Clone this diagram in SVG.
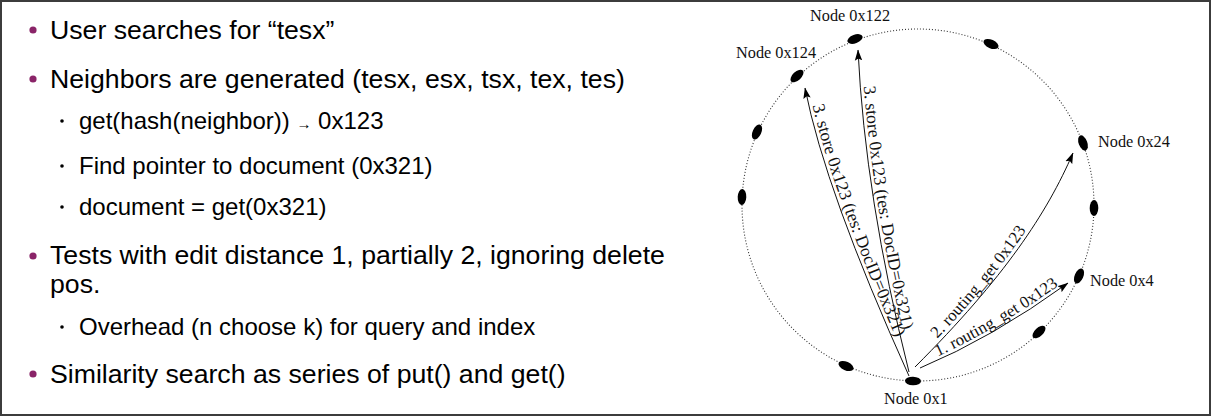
<svg xmlns="http://www.w3.org/2000/svg" xmlns:xlink="http://www.w3.org/1999/xlink" width="1211" height="416" viewBox="0 0 1211 416">
<style>
.l1{font-family:"Liberation Sans",Arial,sans-serif;font-size:26.67px;fill:#000}
.l2{font-family:"Liberation Sans",Arial,sans-serif;font-size:24px;fill:#000}
.b1{fill:#8a2468}
.b2{fill:#000}
.ring{fill:none;stroke:#333;stroke-width:1.1;stroke-dasharray:1 2}
.nd{fill:#000}
.nl{font-family:"Liberation Serif","Times New Roman",serif;font-size:16.3px;fill:#111}
.al{font-family:"Liberation Serif","Times New Roman",serif;font-size:16.8px;fill:#111}
.as{font-family:"Liberation Serif","Times New Roman",serif;font-size:17.6px;fill:#111}
.cn{fill:none;stroke:#111;stroke-width:1;marker-end:url(#ah)}
</style>
<defs>
<marker id="ah" markerUnits="userSpaceOnUse" markerWidth="11" markerHeight="8" viewBox="0 0 11 8" refX="10.5" refY="4" orient="auto">
<path d="M0,0.3 L11,4 L0,7.7 L2,4 z" fill="#000"/>
</marker>
<path id="tA" d="M808.5,87 Q828.5,189 912.5,375"/>
<path id="tB" d="M861.5,49.5 Q868.5,196.5 912.5,371.5"/>
<path id="tC" d="M912,364.6 C1002,274.6 1044,210.6 1070,150.6"/>
<path id="tD" d="M918.6,364.8 Q990.6,334.8 1066.6,279.8"/>
</defs>
<rect x="0" y="0" width="1211" height="416" fill="#fff"/>
<rect x="1" y="1" width="1209" height="414" fill="none" stroke="#3c3c3c" stroke-width="2"/>

<g id="text-left">
<circle class="b1" cx="33" cy="30" r="3.6"/>
<text class="l1" x="50" y="39">User searches for “tesx”</text>
<circle class="b1" cx="33" cy="79" r="3.6"/>
<text class="l1" x="50" y="88">Neighbors are generated (tesx, esx, tsx, tex, tes)</text>
<circle class="b2" cx="62" cy="121" r="1.8"/>
<text class="l2" x="79" y="129">get(hash(neighbor)) <tspan font-size="15px">→</tspan> 0x123</text>
<circle class="b2" cx="62" cy="166" r="1.8"/>
<text class="l2" x="79" y="174">Find pointer to document (0x321)</text>
<circle class="b2" cx="62" cy="207" r="1.8"/>
<text class="l2" x="79" y="215">document = get(0x321)</text>
<circle class="b1" cx="33" cy="256" r="3.6"/>
<text class="l1" x="50" y="264">Tests with edit distance 1, partially 2, ignoring delete</text>
<text class="l1" x="50" y="293">pos.</text>
<circle class="b2" cx="62" cy="327" r="1.8"/>
<text class="l2" x="79" y="335">Overhead (n choose k) for query and index</text>
<circle class="b1" cx="33" cy="374" r="3.6"/>
<text class="l1" x="50" y="383">Similarity search as series of put() and get()</text>
</g>

<circle class="ring" cx="918" cy="205" r="176"/>

<g id="connectors">
<path id="cA" class="cn" d="M909,376 Q825,190 805,88"/>
<path id="cB" class="cn" d="M909,372 Q865,197 858,50"/>
<path id="cC" class="cn" d="M915,367 C1005,277 1047,213 1073,153"/>
<path id="cD" class="cn" d="M920,368 Q992,338 1068,283"/>
<text class="as"><textPath href="#tA" startOffset="19">3. store 0x123 (tes: DocID=0x321)</textPath></text>
<text class="as"><textPath href="#tB" startOffset="37">3. store 0x123 (tes: DocID=0x321)</textPath></text>
<text class="al"><textPath href="#tC" startOffset="36">2. routing_get 0x123</textPath></text>
<text class="al"><textPath href="#tD" startOffset="21">1. routing_get 0x123</textPath></text>
</g>

<g id="node-0x1"><ellipse class="nd" cx="913" cy="381" rx="8" ry="4.3" transform="rotate(1.6 913 381)"/><text class="nl" x="884" y="404">Node 0x1</text></g>
<g id="node-a"><ellipse class="nd" cx="846" cy="366" rx="8" ry="4.3" transform="rotate(24 846 366)"/></g>
<g id="node-b"><ellipse class="nd" cx="742" cy="197" rx="8" ry="4.3" transform="rotate(92.6 742 197)"/></g>
<g id="node-c"><ellipse class="nd" cx="757" cy="132" rx="8" ry="4.3" transform="rotate(114.4 757 132)"/></g>
<g id="node-0x124"><ellipse class="nd" cx="797" cy="76" rx="8" ry="4.3" transform="rotate(136.8 797 76)"/><text class="nl" x="736" y="58">Node 0x124</text></g>
<g id="node-0x122"><ellipse class="nd" cx="855" cy="39" rx="8" ry="4.3" transform="rotate(159.5 855 39)"/><text class="nl" x="810" y="21">Node 0x122</text></g>
<g id="node-d"><ellipse class="nd" cx="991" cy="44" rx="8" ry="4.3" transform="rotate(204 991 44)"/></g>
<g id="node-0x24"><ellipse class="nd" cx="1083" cy="143" rx="8" ry="4.3" transform="rotate(249.4 1083 143)"/><text class="nl" x="1098" y="147">Node 0x24</text></g>
<g id="node-e"><ellipse class="nd" cx="1094" cy="208" rx="8" ry="4.3" transform="rotate(271 1094 208)"/></g>
<g id="node-0x4"><ellipse class="nd" cx="1079" cy="276" rx="8" ry="4.3" transform="rotate(293.8 1079 276)"/><text class="nl" x="1090" y="285.5">Node 0x4</text></g>
<g id="node-f"><ellipse class="nd" cx="1039" cy="332" rx="8" ry="4.3" transform="rotate(316.4 1039 332)"/></g>
</svg>
